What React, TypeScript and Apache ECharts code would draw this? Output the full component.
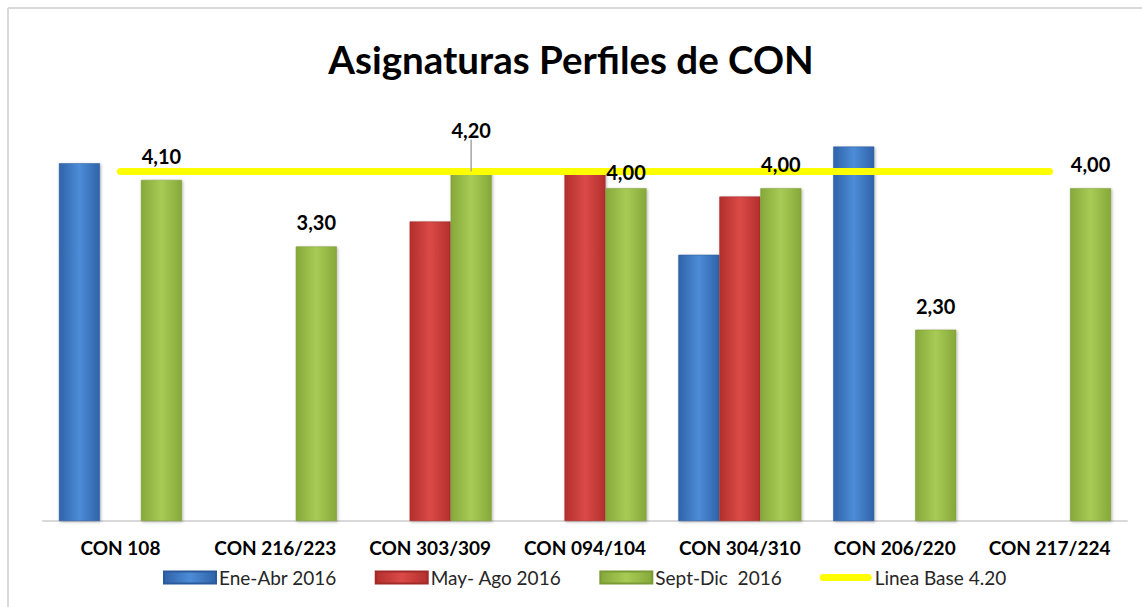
import React, { useEffect, useRef } from "react";
import * as echarts from "echarts";

const categories = ["CON 108", "CON 216/223", "CON 303/309", "CON 094/104", "CON 304/310", "CON 206/220", "CON 217/224"];
const eneAbr2016 = [4.3, null, null, null, 3.2, 4.5, null];
const mayAgo2016 = [null, null, 3.6, 4.2, 3.9, null, null];
const septDic2016 = [4.1, 3.3, 4.2, 4.0, 4.0, 2.3, 4.0];
const lineaBase = [4.2, 4.2, 4.2, 4.2, 4.2, 4.2, 4.2];
const seriesNames = ["Ene-Abr 2016", "May- Ago 2016", "Sept-Dic  2016", "Linea Base 4.20"];

const FONT = "Lato, 'Open Sans', sans-serif";

function grad(dark: string, light: string) {
  return new echarts.graphic.LinearGradient(0, 0, 1, 0, [
    { offset: 0, color: dark },
    { offset: 0.5, color: light },
    { offset: 1, color: dark },
  ]);
}

export default function App() {
  const ref = useRef<HTMLDivElement>(null);
  useEffect(() => {
    document.body.style.margin = "0";
    const chart = echarts.init(ref.current!, null, { renderer: "svg" });
    const barShadow = {
      shadowBlur: 3,
      shadowColor: "rgba(0,0,0,0.3)",
      shadowOffsetX: 1,
      shadowOffsetY: 1,
    };
    // zero-height overlay stacked on the green bars, used only to carry their value labels above the yellow line
    const labelCarrier = septDic2016.map((_, i) =>
      i === 2
        ? { value: 0, labelLine: { show: true, lineStyle: { color: "#a6a6a6", width: 1.5 } } }
        : { value: 0 }
    );
    const option: any = {
      animation: false,
      backgroundColor: "#ffffff",
      title: {
        text: "Asignaturas Perfiles de CON",
        left: "center",
        top: 39,
        padding: [0, 0, 0, 18],
        textStyle: { fontFamily: FONT, fontWeight: "bold", fontSize: 38.5, color: "#000000" },
      },
      graphic: [
        { type: "line", silent: true, shape: { x1: 8, y1: 8, x2: 1142, y2: 8 }, style: { stroke: "#d9d9d9", lineWidth: 2 } },
        { type: "line", silent: true, shape: { x1: 8, y1: 8, x2: 8, y2: 607 }, style: { stroke: "#d9d9d9", lineWidth: 2 } },
      ],
      legend: {
        left: 158,
        top: 563,
        itemWidth: 52,
        itemHeight: 12,
        itemGap: 38,
        textStyle: { fontFamily: FONT, fontSize: 19, color: "#262626", padding: [0, 0, 0, -2] },
        data: [
          { name: seriesNames[0], icon: "rect" },
          { name: seriesNames[1], icon: "rect" },
          { name: seriesNames[2], icon: "rect" },
          {
            name: seriesNames[3],
            icon: "path://M3.5,0 L48.5,0 A3.5,3.5 0 0 1 48.5,7 L3.5,7 A3.5,3.5 0 0 1 3.5,0 Z",
          },
        ],
      },
      grid: { left: 43, right: 15, top: 105, bottom: 86 },
      xAxis: {
        type: "category",
        data: categories,
        axisLine: { show: true, lineStyle: { color: "#d9d9d9", width: 2 } },
        axisTick: { show: false },
        axisLabel: { fontFamily: FONT, fontWeight: "bold", fontSize: 19, color: "#000000", margin: 17, interval: 0 },
      },
      yAxis: {
        type: "value",
        min: 0,
        max: 5,
        show: false,
        splitLine: { show: false },
      },
      series: [
        {
          name: seriesNames[0],
          type: "bar",
          z: 2,
          data: eneAbr2016,
          barWidth: 41,
          barGap: "0%",
          itemStyle: { color: grad("#2f63a8", "#4d8cd8"), borderColor: "#2a5a9a", borderWidth: 0.5, ...barShadow },
        },
        {
          name: seriesNames[1],
          type: "bar",
          z: 2,
          data: mayAgo2016,
          barWidth: 41,
          barGap: "0%",
          itemStyle: { color: grad("#b22f2d", "#db4a47"), borderColor: "#a02a28", borderWidth: 0.5, ...barShadow },
        },
        {
          name: seriesNames[2],
          type: "bar",
          z: 2,
          stack: "sept",
          barWidth: 41,
          barGap: "0%",
          data: septDic2016,
          itemStyle: { color: grad("#86a83b", "#a8cb55"), borderColor: "#7a9a35", borderWidth: 0.5, ...barShadow },
        },
        {
          name: "sept-labels",
          type: "bar",
          z: 6,
          stack: "sept",
          barWidth: 41,
          barGap: "0%",
          silent: true,
          data: labelCarrier,
          itemStyle: { color: "rgba(0,0,0,0)" },
          label: {
            show: true,
            position: "top",
            distance: 14,
            fontFamily: FONT,
            fontWeight: "bold",
            fontSize: 20,
            color: "#000000",
            formatter: (p: any) => septDic2016[p.dataIndex].toFixed(2).replace(".", ","),
          },
          labelLine: { show: false },
          labelLayout: (p: any) => {
            if (p.dataIndex === 2) return { dy: -18 };
            if (p.dataIndex === 3) return { dy: 8 };
            return {};
          },
        },
        {
          name: seriesNames[3],
          type: "line",
          z: 4,
          data: lineaBase,
          symbol: "none",
          lineStyle: {
            color: "#ffff00",
            width: 7,
            cap: "round",
          },
          itemStyle: { color: "#ffff00" },
        },
      ],
    };
    chart.setOption(option);
    return () => chart.dispose();
  }, []);
  return <div ref={ref} style={{ width: 1142, height: 607 }} />;
}
